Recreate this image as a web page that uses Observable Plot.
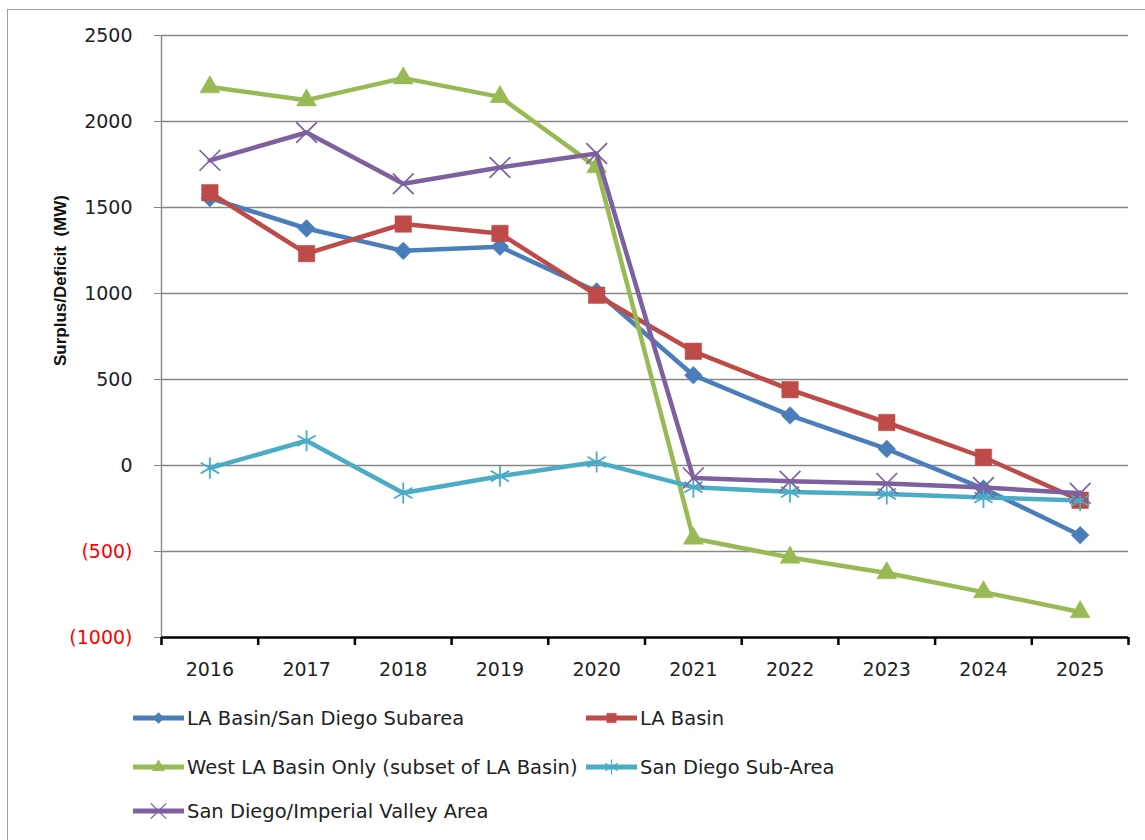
<!DOCTYPE html>
<html>
<head>
<meta charset="utf-8">
<script src="https://cdn.jsdelivr.net/npm/d3@7"></script>
<script src="https://cdn.jsdelivr.net/npm/@observablehq/plot@0.6"></script>
<style>
  html, body { margin: 0; padding: 0; background: #fff; width: 1145px; height: 840px; overflow: hidden; font-family: "DejaVu Sans", sans-serif; }
  #frame { position: absolute; left: 7px; top: 9px; width: 1170px; height: 870px; border: 1px solid #a0a0a0; box-sizing: border-box; pointer-events: none; }
  #chart { position: absolute; left: 0; top: 0; }
  #legend { position: absolute; left: 0; top: 700px; width: 1145px; height: 140px; }
  .item { position: absolute; display: flex; align-items: center; font-size: 19.5px; color: #222; white-space: nowrap; }
  .item svg { display: block; margin-right: 3px; }
</style>
</head>
<body>
<div id="chart"></div>
<div id="legend"></div>
<div id="frame"></div>
<script>
// ---- data ----
const years = [2016, 2017, 2018, 2019, 2020, 2021, 2022, 2023, 2024, 2025];
const seriesNames = [
  "LA Basin/San Diego Subarea",
  "LA Basin",
  "West LA Basin Only (subset of LA Basin)",
  "San Diego Sub-Area",
  "San Diego/Imperial Valley Area"
];
const laSanDiego   = [1555, 1378, 1248, 1272, 1012, 525, 291, 96, -134, -405];
const laBasin      = [1586, 1232, 1404, 1349, 990, 664, 441, 250, 48, -202];
const westLaBasin  = [2200, 2124, 2252, 2143, 1735, -424, -535, -625, -736, -852];
const sdSubArea    = [-15, 144, -160, -62, 20, -126, -154, -165, -186, -204];
const sdImperial   = [1774, 1936, 1638, 1733, 1814, -72, -92, -104, -128, -162];
const seriesValues = [laSanDiego, laBasin, westLaBasin, sdSubArea, sdImperial];

const yTicksPositive = [0, 500, 1000, 1500, 2000, 2500];
const yTicksNegative = [-500, -1000];
const yAxisTitle = "Surplus/Deficit  (MW)";

// ---- styles ----
const seriesColors  = ["#4A7EBB", "#BE4B48", "#98B954", "#4BACC6", "#7D60A0"];
const seriesSymbols = ["diamond2", "square2", "triangle2", "asterisk", "times"];
const seriesR       = [8, 10.5, 9.5, 10, 9.5];
const seriesStrokeW = [0.5, 0.5, 0.5, 1.8, 1.7];

const rows = [];
seriesValues.forEach((vals, i) => vals.forEach((v, j) => rows.push({series: seriesNames[i], idx: i, year: years[j], value: v})));

const first = years[0], last = years[years.length - 1];
const boundaries = d3.range(first - 0.5, last + 1, 1);

const marks = [
  Plot.ruleY(yTicksPositive.concat([-500]), {stroke: "#878787", strokeWidth: 1.4}),
  Plot.ruleX([first - 0.5], {stroke: "#878787", strokeWidth: 1.4}),
  Plot.axisY({ticks: yTicksPositive, tickSize: 7, tickPadding: 22, stroke: "#878787", fill: "#222", fontSize: 19, label: null, tickFormat: d => String(d)}),
  Plot.axisY({ticks: yTicksNegative, tickSize: 7, tickPadding: 22, stroke: "#878787", fill: "#ff0000", fontSize: 19, label: null, tickFormat: d => `(${-d})`}),
  Plot.axisX({ticks: boundaries, tickSize: 8, tickFormat: () => "", stroke: "#000", strokeWidth: 2.5, label: null}),
  Plot.axisX({ticks: years, tickSize: 0, tickPadding: 25, fill: "#222", fontSize: 19, tickFormat: d => String(d), label: null}),
  Plot.ruleY([-1000], {stroke: "#000", strokeWidth: 2.5}),
  Plot.text([yAxisTitle], {frameAnchor: "left", textAnchor: "middle", dx: -101, dy: -56, rotate: -90, fontWeight: "bold", fontSize: 17, fontFamily: "Liberation Sans", fill: "#111"})
];

seriesNames.forEach((name, i) => {
  const data = rows.filter(d => d.idx === i);
  marks.push(Plot.lineY(data, {x: "year", y: "value", stroke: seriesColors[i], strokeWidth: 4.5, strokeLinejoin: "round", strokeLinecap: "round"}));
  const filled = seriesSymbols[i].endsWith("2");
  marks.push(Plot.dot(data, {
    x: "year", y: "value", symbol: seriesSymbols[i], r: seriesR[i],
    fill: filled ? seriesColors[i] : "none",
    stroke: seriesColors[i], strokeWidth: seriesStrokeW[i]
  }));
});

const chart = Plot.plot({
  width: 1145,
  height: 700,
  marginLeft: 161,
  marginRight: 17,
  marginTop: 35,
  marginBottom: 63,
  style: {fontFamily: "DejaVu Sans", fontSize: "19px", color: "#222", background: "transparent"},
  x: {domain: [first - 0.5, last + 0.5], axis: null},
  y: {domain: [-1000, 2500], axis: null},
  marks
});
document.getElementById("chart").appendChild(chart);

// ---- legend ----
const legendPos = [
  {left: 133, top: 18}, {left: 586, top: 18},
  {left: 133, top: 67}, {left: 586, top: 67},
  {left: 133, top: 111}
];
const legendR = [5, 6, 6, 7, 7];
const legend = d3.select("#legend");
const symMap = {diamond2: d3.symbolDiamond2, square2: d3.symbolSquare2, triangle2: d3.symbolTriangle2, asterisk: d3.symbolAsterisk, times: d3.symbolTimes};
seriesNames.forEach((name, i) => {
  const item = legend.append("div").attr("class", "item")
    .style("left", legendPos[i].left + "px")
    .style("top", (legendPos[i].top - 12) + "px")
    .style("height", "24px");
  const svg = item.append("svg").attr("width", 51).attr("height", 24);
  svg.append("line").attr("x1", 0).attr("x2", 51).attr("y1", 12).attr("y2", 12)
    .attr("stroke", seriesColors[i]).attr("stroke-width", 5);
  const filled = seriesSymbols[i].endsWith("2");
  svg.append("path").attr("transform", "translate(25.5,12)")
    .attr("d", d3.symbol(symMap[seriesSymbols[i]], Math.PI * legendR[i] * legendR[i])())
    .attr("fill", filled ? seriesColors[i] : "none")
    .attr("stroke", seriesColors[i]).attr("stroke-width", filled ? 0.5 : 1.3);
  item.append("span").text(name);
});
</script>
</body>
</html>
